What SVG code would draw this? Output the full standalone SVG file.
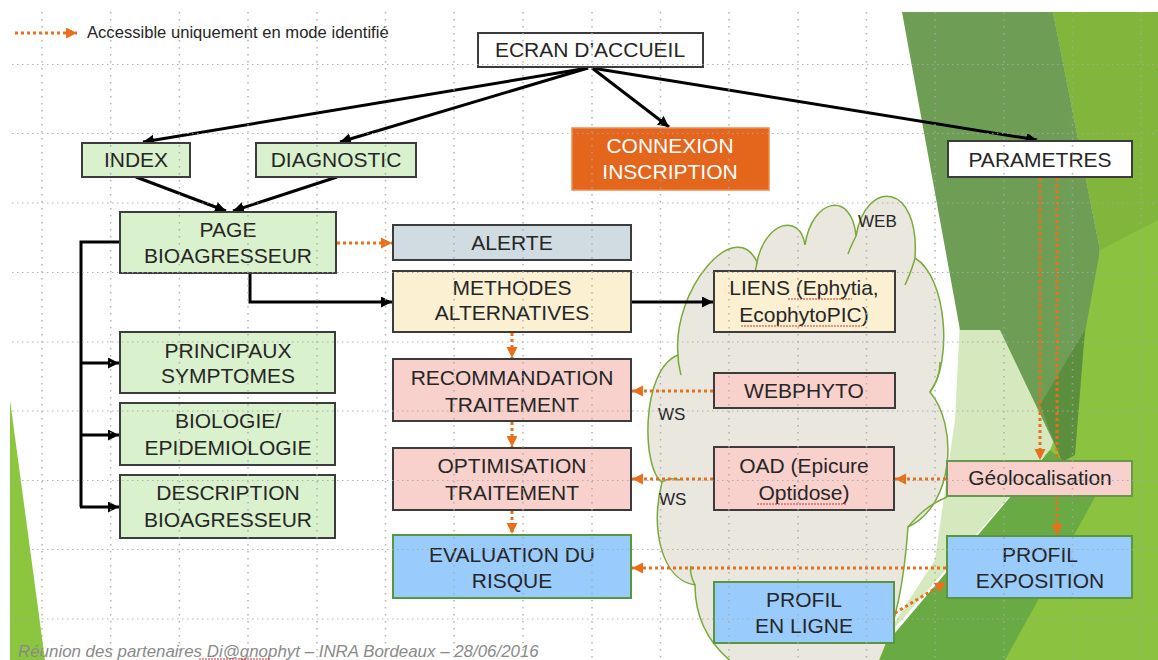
<svg xmlns="http://www.w3.org/2000/svg" width="1158" height="660" viewBox="0 0 1158 660">
<defs>
<style>
.t{font-family:"Liberation Sans",Arial,sans-serif;font-size:21px;fill:#262626;text-anchor:middle}
.b{stroke:#3c3c3c;stroke-width:2}
.g{fill:#d9f1cd}
.pk{fill:#f8d1cc}
.cr{fill:#fbf0d2}
.bl{fill:#99cbfd;stroke:#5a9540;stroke-width:2}
.k{fill:none;stroke:#000;stroke-width:3;marker-end:url(#ak)}
.o{fill:none;stroke:#e8701c;stroke-width:3;stroke-dasharray:3 3;marker-end:url(#ao)}
.sp{stroke:#e03030;stroke-width:1;stroke-dasharray:2 1;fill:none}
.gh{stroke:#a8a8a8;stroke-width:1;stroke-dasharray:1.5 3.5;fill:none}
.gv{stroke:#a8a8a8;stroke-width:1.5;stroke-dasharray:1.5 5.5;fill:none}
</style>
<marker id="ak" markerUnits="userSpaceOnUse" markerWidth="12" markerHeight="12" refX="11" refY="5.5" orient="auto"><path d="M0,0 L11,5.5 L0,11 z" fill="#000"/></marker>
<marker id="ao" markerUnits="userSpaceOnUse" markerWidth="12" markerHeight="12" refX="11" refY="5.5" orient="auto"><path d="M0,0 L11,5.5 L0,11 z" fill="#e8701c"/></marker>
</defs>
<rect width="1158" height="660" fill="#fff"/>
<g id="decor">
<polygon points="10,400 10,660 45,660" fill="#8cc63f"/>
<polygon points="1053,12 1158,12 1158,660 990,660 1100,250" fill="#8bc23f"/>
<polygon points="1053,12 1158,12 1158,220 1100,250" fill="#82b53b"/>
<polygon points="960,320 1025,330 1062,420 1050,450 880,645 935,560 955,420" fill="#d6e8bd"/>
<polygon points="902,12 1053,12 1100,250 1062,460 1000,330 960,330" fill="#6e9e55"/>
<polygon points="1040,405 1085,330 1075,455 1062,462" fill="#5c8f3d"/>
<polygon points="872,660 1005,660 1110,470 1062,460 1050,450" fill="#6aaa45"/>
</g>
<g id="cloud">
<path d="M 678 355 C 672 290 735 215 757 262 C 765 222 800 212 805 245 C 812 198 852 190 856 236 C 866 178 920 182 915 258 C 948 278 952 365 930 392 C 958 425 955 505 908 527 C 905 570 898 630 870 680 L 760 680 C 720 660 695 630 695 585 C 662 580 650 530 662 482 C 642 470 640 370 678 355 Z" fill="#e9e7de" stroke="#7aaa3c" stroke-width="1.5"/>
<path d="M 678 355 C 678 365 680 370 681 375 M 757 262 C 756 270 754 276 752 282 M 856 236 C 853 242 850 248 848 254 M 915 258 C 912 270 908 278 905 285 M 930 392 C 938 380 940 372 940 362 M 908 527 C 918 515 928 505 947 497 M 662 482 C 668 478 674 478 680 480 M 695 585 C 690 575 690 570 691 566" fill="none" stroke="#7aaa3c" stroke-width="1.5"/>
<text x="858" y="227" font-family="Liberation Sans,Arial,sans-serif" font-size="17" fill="#262626">WEB</text>
<text x="658" y="420" font-family="Liberation Sans,Arial,sans-serif" font-size="17" fill="#262626">WS</text>
<text x="659" y="505" font-family="Liberation Sans,Arial,sans-serif" font-size="17" fill="#262626">WS</text>
</g>
<g id="legend">
<path d="M15 33 L77 33" class="o"/>
<text x="87" y="38" font-family="Liberation Sans,Arial,sans-serif" font-size="16.6" fill="#262626">Accessible uniquement en mode identifié</text>
</g>
<g id="connectors">
<path class="k" d="M588 68 L143 142"/>
<path class="k" d="M588 68 L340 142"/>
<path class="k" d="M592 68 L669 127"/>
<path class="k" d="M592 68 L1037 140"/>
<path class="k" d="M136 177 L226 211"/>
<path class="k" d="M337 177 L233 211"/>
<path class="k" d="M250 273 L250 302 L392 302"/>
<path class="k" d="M631 302 L713 302"/>
<path fill="none" stroke="#000" stroke-width="3" d="M120 242 L81 242 L81 507"/>
<path class="k" d="M80 363 L119 363"/>
<path class="k" d="M80 435 L119 435"/>
<path class="k" d="M80 507 L119 507"/>
<path class="o" d="M337 243 L392 243"/>
<path class="o" d="M512 333 L512 358"/>
<path class="o" d="M512 422 L512 447"/>
<path class="o" d="M512 511 L512 534"/>
<path class="o" d="M713 391 L632 391"/>
<path class="o" d="M713 479 L632 479"/>
<path class="o" d="M946 568 L632 568"/>
<path class="o" d="M946 479 L895 479"/>
<path class="o" d="M895 613 L946 582"/>
<path class="o" d="M1040 178 L1040 460"/>
<path class="o" d="M1057 178 L1057 535"/>
</g>
<g id="ecran"><rect x="478" y="33" width="225" height="34" fill="#fff" class="b"/><text class="t" x="590" y="57">ECRAN D’ACCUEIL</text></g>
<g id="connexion"><rect x="572" y="128" width="197" height="62" fill="#e4661c" stroke="#ef8a4c" stroke-width="1.5"/><text class="t" x="670" y="153" style="fill:#fff">CONNEXION</text><text class="t" x="670" y="179" style="fill:#fff">INSCRIPTION</text></g>
<g id="index"><rect x="82" y="143" width="108" height="34" class="g b"/><text class="t" x="136" y="167">INDEX</text></g>
<g id="diagnostic"><rect x="256" y="143" width="160" height="34" class="g b"/><text class="t" x="336" y="167">DIAGNOSTIC</text></g>
<g id="parametres"><rect x="948" y="141" width="184" height="36" fill="#fff" class="b"/><text class="t" x="1040" y="167">PARAMETRES</text></g>
<g id="page"><rect x="120" y="212" width="216" height="61" class="g b"/><text class="t" x="228" y="237">PAGE</text><text class="t" x="228" y="263">BIOAGRESSEUR</text></g>
<g id="alerte"><rect x="393" y="225" width="238" height="35" fill="#d0dbe2" class="b"/><text class="t" x="512" y="250">ALERTE</text></g>
<g id="methodes"><rect x="393" y="271" width="238" height="61" class="cr b"/><text class="t" x="512" y="295">METHODES</text><text class="t" x="512" y="320">ALTERNATIVES</text></g>
<g id="liens"><rect x="714" y="271" width="181" height="61" class="cr b"/><text class="t" x="804" y="295">LIENS (Ephytia,</text><text class="t" x="804" y="322">EcophytoPIC)</text><path class="sp" d="M788 299 L852 299 M741 326 L862 326"/></g>
<g id="principaux"><rect x="120" y="332" width="215" height="61" class="g b"/><text class="t" x="228" y="358">PRINCIPAUX</text><text class="t" x="228" y="383">SYMPTOMES</text></g>
<g id="recommandation"><rect x="393" y="359" width="238" height="62" class="pk b"/><text class="t" x="512" y="385">RECOMMANDATION</text><text class="t" x="512" y="412">TRAITEMENT</text></g>
<g id="webphyto"><rect x="714" y="373" width="181" height="35" class="pk b"/><text class="t" x="804" y="398">WEBPHYTO</text></g>
<g id="biologie"><rect x="120" y="403" width="215" height="62" class="g b"/><text class="t" x="228" y="428">BIOLOGIE/</text><text class="t" x="228" y="455">EPIDEMIOLOGIE</text></g>
<g id="optimisation"><rect x="393" y="448" width="238" height="62" class="pk b"/><text class="t" x="512" y="473">OPTIMISATION</text><text class="t" x="512" y="500">TRAITEMENT</text></g>
<g id="oad"><rect x="714" y="447" width="180" height="63" class="pk b"/><text class="t" x="804" y="473">OAD (Epicure</text><text class="t" x="804" y="500">Optidose)</text><path class="sp" d="M757 504 L847 504"/></g>
<g id="geolocalisation"><rect x="947" y="461" width="185" height="35" fill="#f8d1cc" stroke="#6a9650" stroke-width="2"/><text class="t" x="1040" y="485">Géolocalisation</text></g>
<g id="description"><rect x="120" y="475" width="215" height="63" class="g b"/><text class="t" x="228" y="500">DESCRIPTION</text><text class="t" x="228" y="527">BIOAGRESSEUR</text></g>
<g id="evaluation"><rect x="393" y="535" width="238" height="63" class="bl"/><text class="t" x="512" y="562">EVALUATION DU</text><text class="t" x="512" y="588">RISQUE</text></g>
<g id="profilexpo"><rect x="947" y="536" width="185" height="62" class="bl"/><text class="t" x="1040" y="562">PROFIL</text><text class="t" x="1040" y="588">EXPOSITION</text></g>
<g id="profilligne"><rect x="714" y="582" width="180" height="61" class="bl"/><text class="t" x="804" y="607">PROFIL</text><text class="t" x="804" y="633">EN LIGNE</text></g>
<g id="footer">
<text x="18" y="657" font-family="Liberation Sans,Arial,sans-serif" font-size="16.9" font-style="italic" fill="#8a8a8a">Réunion des partenaires Di@gnophyt – INRA Bordeaux – 28/06/2016</text>
<path class="sp" d="M199 659 L270 659"/>
</g>
<g id="grid" opacity="0.85">
<path class="gh" d="M12 64.5 H1158 M12 133.5 H1158 M12 203 H1158 M12 272.5 H1158 M12 342 H1158 M12 411 H1158 M12 480.5 H1158 M12 549.5 H1158 M12 619 H1158"/>
<path class="gv" d="M42 12 V660 M110.7 12 V660 M179.4 12 V660 M248 12 V660 M317 12 V660 M385.5 12 V660 M454 12 V660 M523 12 V660 M592 12 V660 M660.5 12 V660 M729 12 V660 M798 12 V660 M866.5 12 V660 M935 12 V660 M1004 12 V660 M1072.5 12 V660 M1141 12 V660"/>
</g>
</svg>
